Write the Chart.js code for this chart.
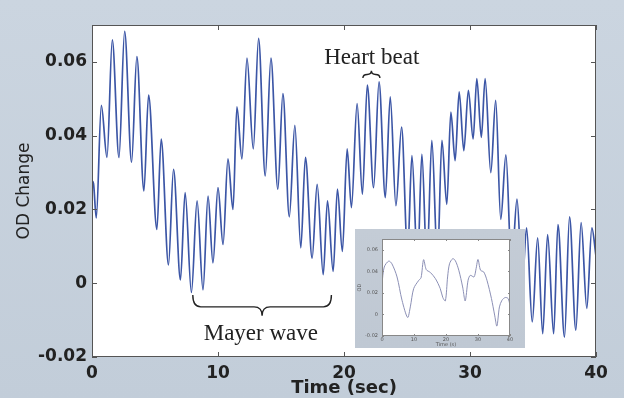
<!DOCTYPE html>
<html>
<head>
<meta charset="utf-8">
<script src="https://cdn.jsdelivr.net/npm/chart.js@4.4.1/dist/chart.umd.min.js"></script>
<style>
  html, body { margin: 0; padding: 0; background: #c7d2de; }
  #wrap { position: relative; width: 624px; height: 398px; }
  #main { position: absolute; left: 0; top: 0; }
  #inset { position: absolute; left: 355px; top: 229px; }
</style>
</head>
<body>
<div id="wrap">
  <canvas id="main" width="624" height="398"></canvas>
  <canvas id="inset" width="170" height="119"></canvas>
</div>
<script>
// main trace: peaks and troughs (sec, OD change)
const TIME = [0, 0.12, 0.34, 0.74, 1.19, 1.61, 2.14, 2.59, 3.14, 3.56, 4.12, 4.49, 5.15, 5.49, 6.07, 6.47,
  7.02, 7.39, 7.89, 8.34, 8.81, 9.21, 9.6, 10.0, 10.4, 10.79, 11.19, 11.5, 11.9, 12.3, 12.8, 13.22,
  13.75, 14.2, 14.75, 15.15, 15.66, 16.1, 16.57, 16.94, 17.47, 17.87, 18.35, 18.69, 19.14, 19.48,
  19.87, 20.25, 20.59, 21.04, 21.46, 21.85, 22.35, 22.78, 23.28, 23.67, 24.12, 24.57, 25.05, 25.39,
  25.84, 26.18, 26.58, 26.97, 27.42, 27.77, 28.16, 28.48, 28.82, 29.14, 29.51, 29.87, 30.25, 30.54,
  30.9, 31.2, 31.65, 32.04, 32.44, 32.85, 33.3, 33.73, 34.15, 34.49, 34.94, 35.37, 35.77, 36.16,
  36.64, 36.98, 37.5, 37.9, 38.4, 38.82, 39.27, 39.67, 40];
const OD = [0.0278, 0.027, 0.0177, 0.0482, 0.0341, 0.066, 0.0341, 0.0683, 0.0328, 0.0614, 0.025, 0.051,
  0.0146, 0.0391, 0.005, 0.0309, 0.0009, 0.0246, -0.0025, 0.0223, -0.0018, 0.0236, 0.0055, 0.0259,
  0.0105, 0.0337, 0.02, 0.0478, 0.0337, 0.061, 0.0364, 0.0664, 0.0291, 0.061, 0.0255, 0.0514, 0.018,
  0.0428, 0.0096, 0.0341, 0.0068, 0.0268, 0.0023, 0.0223, 0.0032, 0.0255, 0.0086, 0.0364, 0.0205,
  0.0487, 0.0241, 0.0537, 0.0259, 0.0546, 0.0232, 0.0505, 0.021, 0.0423, 0.008, 0.0346, 0.005, 0.035,
  0.005, 0.0387, 0.006, 0.0387, 0.0214, 0.0464, 0.0332, 0.0519, 0.0359, 0.0523, 0.0391, 0.0555,
  0.0395, 0.0555, 0.03, 0.0496, 0.0173, 0.0348, 0.004, 0.0228, 0.0, 0.015, -0.0105, 0.0123, -0.0137,
  0.0132, -0.0137, 0.0159, -0.0146, 0.018, -0.0127, 0.0164, -0.0068, 0.015, 0.0073];

// inset trace (filtered signal)
const INSET_TIME = [0, 0.7, 2.1, 3.1, 4.7, 6.25, 8.0, 8.85, 9.9, 11.5, 12.2, 13.0, 13.85, 15.1, 16.7,
  18.2, 19.0, 19.8, 20.5, 21.1, 22.1, 22.9, 24.0, 25.2, 26.0, 26.9, 27.6, 28.75, 29.4, 30.0, 30.8,
  31.8, 32.8, 34.2, 35.2, 35.9, 36.7, 37.5, 38.5, 39.4, 40];
const INSET_OD = [0.0286, 0.044, 0.0495, 0.047, 0.0348, 0.0132, -0.0028, 0.007, 0.024, 0.0317, 0.034,
  0.0508, 0.0415, 0.039, 0.0332, 0.024, 0.0157, 0.0126, 0.0348, 0.047, 0.0517, 0.05, 0.041, 0.0255,
  0.0126, 0.0317, 0.0363, 0.0348, 0.0425, 0.051, 0.041, 0.0394, 0.0317, 0.0148, -0.0006, -0.0108,
  0.007, 0.0132, 0.0157, 0.0148, 0.0086];

const X_TICKS = [0, 10, 20, 30, 40];
const Y_TICKS = [-0.02, 0, 0.02, 0.04, 0.06];

const INK = '#222';

function drawBrace(ctx, x1, x2, yEnd, yMid, yTip) {
  const xc = (x1 + x2) / 2;
  const r = Math.min(8, (x2 - x1) / 4);
  ctx.beginPath();
  ctx.moveTo(x1, yEnd);
  ctx.quadraticCurveTo(x1, yMid, x1 + r, yMid);
  ctx.lineTo(xc - r, yMid);
  ctx.quadraticCurveTo(xc, yMid, xc, yTip);
  ctx.quadraticCurveTo(xc, yMid, xc + r, yMid);
  ctx.lineTo(x2 - r, yMid);
  ctx.quadraticCurveTo(x2, yMid, x2, yEnd);
  ctx.stroke();
}

// background, white plot area, box and inward ticks (matlab look)
const framePlugin = {
  id: 'frame',
  beforeDraw(chart, args, opts) {
    const { ctx, chartArea: a, width, height } = chart;
    ctx.save();
    const g = ctx.createLinearGradient(0, 0, 0, height);
    g.addColorStop(0, opts.outerTop);
    g.addColorStop(1, opts.outerBottom);
    ctx.fillStyle = g;
    ctx.fillRect(0, 0, width, height);
    ctx.fillStyle = '#fff';
    ctx.fillRect(a.left, a.top, a.right - a.left, a.bottom - a.top);
    ctx.restore();
  },
  afterDraw(chart, args, opts) {
    const { ctx, chartArea: a, scales: { x, y } } = chart;
    const L = opts.tick;
    ctx.save();
    ctx.strokeStyle = opts.edge;
    ctx.lineWidth = 1;
    ctx.strokeRect(a.left + 0.5, a.top + 0.5, a.right - a.left - 1, a.bottom - a.top - 1);
    ctx.beginPath();
    x.ticks.forEach(t => {
      const px = Math.round(x.getPixelForValue(t.value)) + 0.5;
      ctx.moveTo(px, a.bottom); ctx.lineTo(px, a.bottom - L);
      ctx.moveTo(px, a.top); ctx.lineTo(px, a.top + L);
    });
    y.ticks.forEach(t => {
      const py = Math.round(y.getPixelForValue(t.value)) + 0.5;
      ctx.moveTo(a.left, py); ctx.lineTo(a.left + L, py);
      ctx.moveTo(a.right, py); ctx.lineTo(a.right - L, py);
    });
    ctx.stroke();
    ctx.restore();
  }
};

// "Heart beat" / "Mayer wave" labels with braces, placed in data units
const notesPlugin = {
  id: 'notes',
  afterDatasetsDraw(chart) {
    const { ctx, scales: { x, y } } = chart;
    ctx.save();
    ctx.fillStyle = INK;
    ctx.strokeStyle = INK;
    ctx.lineWidth = 1.4;
    ctx.font = '23px "Liberation Serif", "Times New Roman", serif';
    ctx.textAlign = 'center';
    ctx.textBaseline = 'alphabetic';
    ctx.fillText('Heart beat', x.getPixelForValue(22.2), y.getPixelForValue(0.0595));
    ctx.fillText('Mayer wave', x.getPixelForValue(13.4), y.getPixelForValue(-0.0155));
    drawBrace(ctx, x.getPixelForValue(21.5), x.getPixelForValue(22.85),
      y.getPixelForValue(0.0556), y.getPixelForValue(0.0566), y.getPixelForValue(0.0576));
    drawBrace(ctx, x.getPixelForValue(8.0), x.getPixelForValue(19.0),
      y.getPixelForValue(-0.0032), y.getPixelForValue(-0.0064), y.getPixelForValue(-0.0088));
    ctx.restore();
  }
};

function toPoints(xs, ys) {
  return xs.map((t, i) => ({ x: t, y: ys[i] }));
}

const noGrid = { display: false, drawTicks: false, tickLength: 0 };

new Chart(document.getElementById('main'), {
  type: 'line',
  data: {
    datasets: [{
      data: toPoints(TIME, OD),
      borderColor: '#3c56a6',
      borderWidth: 1.7,
      pointRadius: 0,
      cubicInterpolationMode: 'monotone',
      fill: false
    }]
  },
  options: {
    responsive: false,
    animation: false,
    layout: { padding: { top: 25, right: 28, left: 0, bottom: 0 } },
    plugins: {
      legend: { display: false },
      tooltip: { enabled: false },
      frame: { outerTop: '#cbd5e0', outerBottom: '#c2cdd9', edge: '#555', tick: 5 }
    },
    scales: {
      x: {
        type: 'linear', min: 0, max: 40,
        afterBuildTicks: s => { s.ticks = X_TICKS.map(v => ({ value: v })); },
        afterFit: s => { s.height = 41; },
        grid: noGrid,
        border: { display: false },
        ticks: { color: INK, padding: 6, maxRotation: 0, font: { family: '"DejaVu Sans", sans-serif', size: 17, weight: 'bold' } },
        title: { display: true, text: 'Time (sec)', color: INK, padding: { top: 0, bottom: -1 },
          font: { family: '"DejaVu Sans", sans-serif', size: 18, weight: 'bold' } }
      },
      y: {
        type: 'linear', min: -0.02, max: 0.07,
        afterBuildTicks: s => { s.ticks = Y_TICKS.map(v => ({ value: v })); },
        afterFit: s => { s.width = 92; },
        grid: noGrid,
        border: { display: false },
        ticks: { color: INK, padding: 5, callback: v => String(v), font: { family: '"DejaVu Sans", sans-serif', size: 17, weight: 'bold' } },
        title: { display: true, text: 'OD Change', color: INK, padding: { top: 14, bottom: 0 },
          font: { family: '"DejaVu Sans", sans-serif', size: 17 } }
      }
    }
  },
  plugins: [framePlugin, notesPlugin]
});

// small inset with the filtered (Mayer) component
new Chart(document.getElementById('inset'), {
  type: 'line',
  data: {
    datasets: [{
      data: toPoints(INSET_TIME, INSET_OD),
      borderColor: '#8c90b6',
      borderWidth: 1,
      pointRadius: 0,
      tension: 0.3,
      fill: false
    }]
  },
  options: {
    responsive: false,
    animation: false,
    layout: { padding: { top: 10, right: 15, left: 0, bottom: 0 } },
    plugins: {
      legend: { display: false },
      tooltip: { enabled: false },
      frame: { outerTop: '#c4ccd6', outerBottom: '#bfc8d3', edge: '#888', tick: 2 }
    },
    scales: {
      x: {
        type: 'linear', min: 0, max: 40,
        afterBuildTicks: s => { s.ticks = X_TICKS.map(v => ({ value: v })); },
        afterFit: s => { s.height = 12; },
        grid: noGrid,
        border: { display: false },
        ticks: { color: '#555', padding: 1, maxRotation: 0, font: { family: '"DejaVu Sans", sans-serif', size: 5 } },
        title: { display: true, text: 'Time (s)', color: '#555', padding: { top: 0, bottom: 0 },
          font: { family: '"DejaVu Sans", sans-serif', size: 5 } }
      },
      y: {
        type: 'linear', min: -0.02, max: 0.07,
        afterBuildTicks: s => { s.ticks = Y_TICKS.map(v => ({ value: v })); },
        afterFit: s => { s.width = 27; },
        grid: noGrid,
        border: { display: false },
        ticks: { color: '#555', padding: 4, callback: v => String(v), font: { family: '"DejaVu Sans", sans-serif', size: 5 } },
        title: { display: true, text: 'OD', color: '#555', padding: { top: 2, bottom: 0 },
          font: { family: '"DejaVu Sans", sans-serif', size: 5 } }
      }
    }
  },
  plugins: [framePlugin]
});
</script>
</body>
</html>
